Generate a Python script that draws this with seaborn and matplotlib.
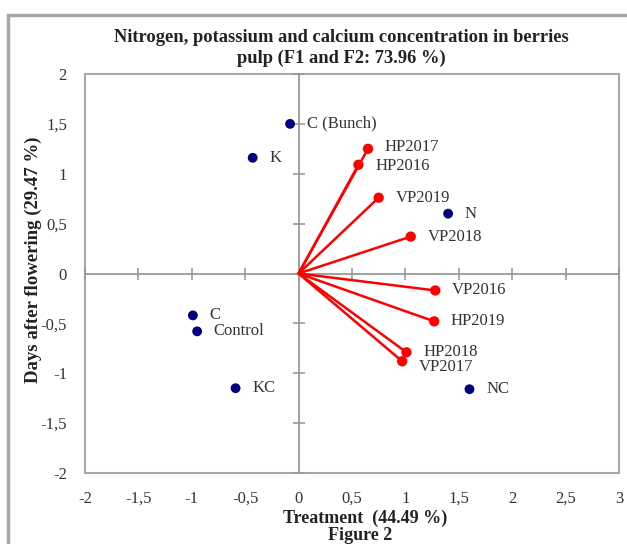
import pandas as pd
import matplotlib.pyplot as plt
import matplotlib.patches as mpatches
from matplotlib.ticker import FuncFormatter, MultipleLocator
import seaborn as sns

# observations (blue dots)
obs_names = ['C (Bunch)', 'K', 'N', 'C', 'Control', 'KC', 'NC']
obs_x = [-0.08, -0.43, 1.40, -0.99, -0.95, -0.59, 1.60]
obs_y = [1.50, 1.16, 0.60, -0.42, -0.58, -1.15, -1.16]

# variables (red vectors)
var_names = ['HP2017', 'HP2016', 'VP2019', 'VP2018', 'VP2016', 'HP2019', 'HP2018', 'VP2017']
var_x = [0.65, 0.56, 0.75, 1.05, 1.28, 1.27, 1.01, 0.97]
var_y = [1.25, 1.09, 0.76, 0.37, -0.17, -0.48, -0.79, -0.88]

x_ticks = [-2, -1.5, -1, -0.5, 0, 0.5, 1, 1.5, 2, 2.5, 3]
y_ticks = [-2, -1.5, -1, -0.5, 0, 0.5, 1, 1.5, 2]

title = 'Nitrogen, potassium and calcium concentration in berries\npulp (F1 and F2: 73.96 %)'
x_label = 'Treatment  (44.49 %)'
y_label = 'Days after flowering (29.47 %)'
caption = 'Figure 2'


def comma(v, pos=None):
    return '{:g}'.format(v).replace('.', ',')


def plot_biplot():
    sns.set_style('white')
    plt.rcParams['font.family'] = ['Liberation Serif', 'DejaVu Serif']

    obs = pd.DataFrame({'F1': obs_x, 'F2': obs_y, 'name': obs_names})
    var = pd.DataFrame({'F1': var_x, 'F2': var_y, 'name': var_names})

    fig = plt.figure(figsize=(6.27, 5.44), dpi=100)
    # outer frame
    fig.patches.append(mpatches.Rectangle((0.013, -0.05), 1.1, 0.05 + 1 - 15 / 544,
                                          transform=fig.transFigure, fill=False,
                                          edgecolor='#a8a8a8', linewidth=2.5))

    box = [85 / 627, 1 - 473 / 544, (619 - 85) / 627, (473 - 74) / 544]
    ax = fig.add_axes(box)
    ax.set_xlim(-2, 3)
    ax.set_ylim(-2, 2)
    ax.set_xticks(x_ticks)
    ax.set_yticks(y_ticks)
    ax.xaxis.set_major_formatter(FuncFormatter(comma))
    ax.yaxis.set_major_formatter(FuncFormatter(comma))
    ax.tick_params(length=0, labelsize=12, labelcolor='#333333')
    ax.tick_params(axis='x', pad=13)
    ax.tick_params(axis='y', pad=13)
    for s in ax.spines.values():
        s.set_color('#a8a8a8')
        s.set_linewidth(1.5)

    # axes through origin with crossing tick marks
    ax0 = fig.add_axes(box, sharex=ax, sharey=ax)
    ax0.patch.set_visible(False)
    ax0.spines['left'].set_position(('data', 0))
    ax0.spines['bottom'].set_position(('data', 0))
    ax0.spines['top'].set_visible(False)
    ax0.spines['right'].set_visible(False)
    for s in ['left', 'bottom']:
        ax0.spines[s].set_color('#999999')
        ax0.spines[s].set_linewidth(1.3)
    ax0.xaxis.set_major_locator(MultipleLocator(0.5))
    ax0.yaxis.set_major_locator(MultipleLocator(0.5))
    ax0.tick_params(bottom=True, left=True, direction='inout', length=9, width=1.2,
                    color='#999999', labelleft=False, labelbottom=False)

    for _, r in var.iterrows():
        ax0.plot([0, r['F1']], [0, r['F2']], color='#ff0000', linewidth=1.8, zorder=3)
    sns.scatterplot(data=var, x='F1', y='F2', ax=ax0, color='#ff0000', s=55,
                    edgecolor='none', zorder=4, legend=False)
    sns.scatterplot(data=obs, x='F1', y='F2', ax=ax0, color='#000080', s=50,
                    edgecolor='none', zorder=4, legend=False)
    ax0.set_xlabel('')
    ax0.set_ylabel('')

    dy = {'HP2017': 1, 'HP2016': -1, 'VP2017': -4}
    for _, r in pd.concat([obs, var]).iterrows():
        ax0.annotate(r['name'], (r['F1'], r['F2']), xytext=(12, dy.get(r['name'], 0)),
                     textcoords='offset points', va='center', ha='left',
                     fontsize=12, color='#333333', zorder=5)

    ax.set_title(title, fontsize=13.3, fontweight='bold', x=0.481, pad=8,
                 linespacing=1.3, color='#222222')
    ax.set_xlabel(x_label, fontsize=13, fontweight='bold', color='#222222', va='center')
    ax.xaxis.set_label_coords(0.524, (473 - 518) / 399)
    ax.set_ylabel(y_label, fontsize=13.5, fontweight='bold', color='#222222', va='center')
    ax.yaxis.set_label_coords(-0.097, 0.534)
    fig.text(360 / 627, 1 - 536 / 544, caption, fontsize=13,
             fontweight='bold', ha='center', va='center', color='#222222')

    plt.savefig('out.png', dpi=100)


if __name__ == "__main__":
    plot_biplot()
